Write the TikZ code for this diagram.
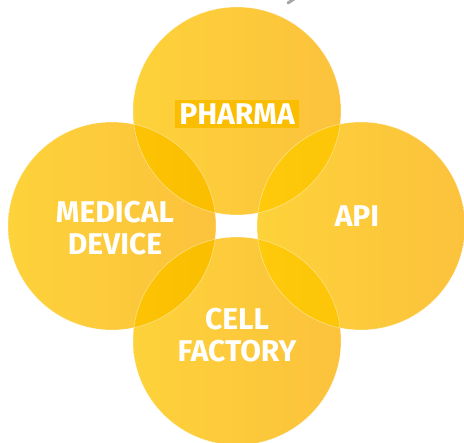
\documentclass[tikz,border=0pt]{standalone}
\usepackage{fontspec}
\setmainfont{Fira Sans}
\usepackage{tikz}
\usetikzlibrary{positioning}

\definecolor{sunlight}{HTML}{FDD23A}
\definecolor{sundeep}{HTML}{FCC23C}
\definecolor{lensleft}{HTML}{FECA0C}
\definecolor{lensright}{HTML}{FBBE00}
\definecolor{tagfill}{HTML}{FBBD00}

\tikzset{
  petal/.style={circle, minimum size=208pt, inner sep=0pt, shading=axis, left color=sunlight, right color=sundeep},
  lens/.style={shading=axis, left color=lensleft, right color=lensright},
  rim/.style={draw=white, draw opacity=0.45, line width=0.6pt},
  word/.style={text=white, font=\fontsize{30}{32}\selectfont\bfseries, align=center, inner sep=0pt}
}

\begin{document}
\begin{tikzpicture}[x=1pt, y=-1pt]
  \useasboundingbox (0,0) rectangle (464,443);
  \begin{scope}
    \clip (0,0) rectangle (464,443);

    \node[petal] (pharma) at (237, 111) {};
    \node[petal] (medical) at (112, 226) {};
    \node[petal] (api) at (361, 226) {};
    \node[petal] (cell) at (237, 341) {};

    % overlapping lenses
    \begin{scope}
      \clip (pharma.center) circle (104pt);
      \shade[lens] (medical.center) circle (104pt);
      \shade[lens] (api.center) circle (104pt);
    \end{scope}
    \begin{scope}
      \clip (cell.center) circle (104pt);
      \shade[lens] (medical.center) circle (104pt);
      \shade[lens] (api.center) circle (104pt);
    \end{scope}

    \draw[rim] (pharma.center) circle (104pt);
    \draw[rim] (medical.center) circle (104pt);
    \draw[rim] (api.center) circle (104pt);
    \draw[rim] (cell.center) circle (104pt);

    \draw[gray!70, line width=3pt, line cap=round] (288,3) -- (294,-1);
  \end{scope}

  \node[word, fill=tagfill, inner xsep=4.5pt, inner ysep=3.5pt, text height=21pt, text depth=0pt] (pharmatext) at (237, 114) {PHARMA};
  \node[word] (medicaltext) at (115, 228) {MEDICAL\\DEVICE};
  \node[word] (apitext) at (357, 216) {API};
  \node[word] (celltext) at (237, 335) {CELL\\FACTORY};
\end{tikzpicture}
\end{document}
